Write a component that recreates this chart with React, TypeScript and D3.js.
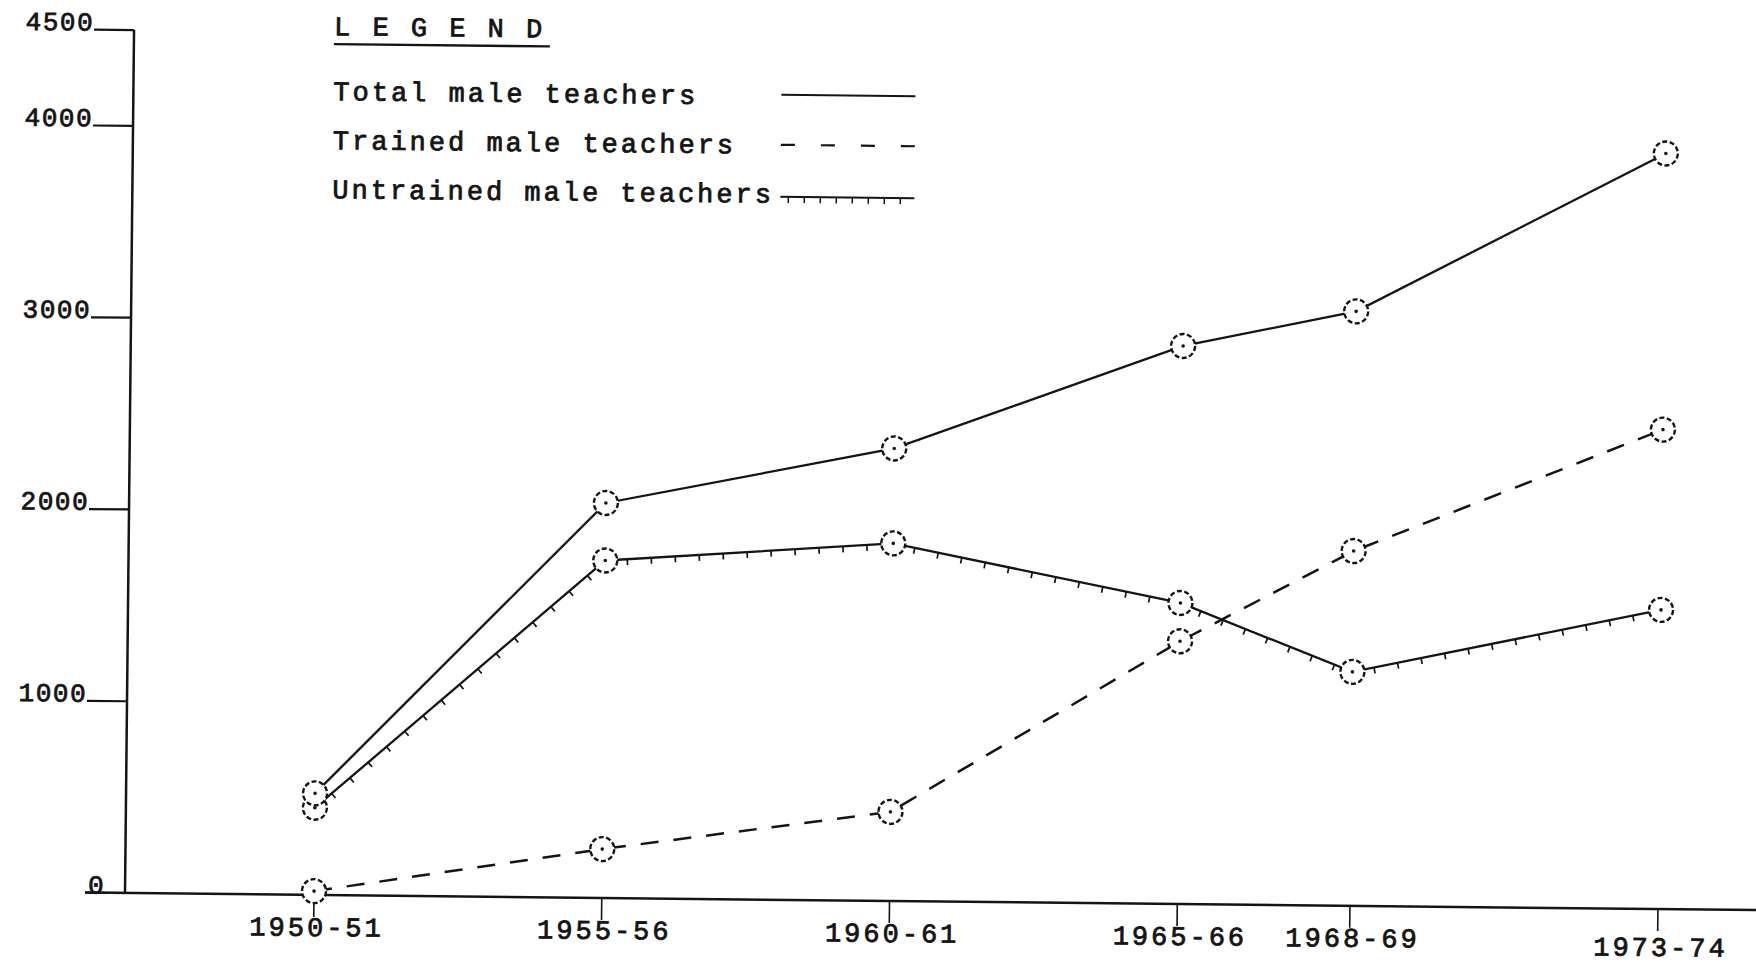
import React from "react";
import * as d3 from "d3";

// ---- data ----
const categories = ["1950-51", "1955-56", "1960-61", "1965-66", "1968-69", "1973-74"];
const startYears = [1950, 1955, 1960, 1965, 1968, 1973];
const totalMale = [530, 2060, 2360, 2910, 3100, 3940];
const trainedMale = [20, 255, 465, 1370, 1850, 2500];
const untrainedMale = [455, 1760, 1865, 1570, 1220, 1560];
const yTickValues = [0, 1000, 2000, 3000, 4000, 4500];
const legendTitle = "L E G E N D";
const legendLabels = ["Total male teachers", "Trained male teachers", "Untrained male teachers"];

const W = 1756;
const H = 968;
const INK = "#141414";
const FONT = "'Liberation Mono', 'DejaVu Sans Mono', monospace";

const x = d3.scaleLinear().domain([1950, 1968, 1973]).range([314, 1350, 1658]);
const y = d3.scaleLinear().domain([0, 4500]).range([893, 30]);
const axisX = 125;
const R = 12;

type Pt = [number, number];

function pts(values: number[]): Pt[] {
  return values.map((v, i) => [x(startYears[i]), y(v)] as Pt);
}

function tickMarks(points: Pt[], spacing: number, len: number, startPad: number, endPad: number) {
  const segs: string[] = [];
  for (let i = 0; i < points.length - 1; i++) {
    const [x0, y0] = points[i];
    const [x1, y1] = points[i + 1];
    const L = Math.hypot(x1 - x0, y1 - y0);
    const ux = (x1 - x0) / L;
    const uy = (y1 - y0) / L;
    const nx = -uy;
    const ny = ux;
    for (let t = startPad; t <= L - endPad; t += spacing) {
      const px = x0 + ux * t;
      const py = y0 + uy * t;
      segs.push(`M${px},${py}L${px + nx * len},${py + ny * len}`);
    }
  }
  return segs.join("");
}

export default function App() {
  const line = d3.line<Pt>().x((d) => d[0]).y((d) => d[1]);
  const totalPts = pts(totalMale);
  const trainedPts = pts(trainedMale);
  const untrainedPts = pts(untrainedMale);
  const y0 = y(0);
  const textStyle = {
    fontFamily: FONT,
    fontSize: 27,
    letterSpacing: 3,
    fill: INK,
    stroke: INK,
    strokeWidth: 0.8,
  } as React.CSSProperties;
  const yLabelStyle = { ...textStyle, fontSize: 26, letterSpacing: 1.5 } as React.CSSProperties;

  const legendX = 325;
  const legendBase = [98, 147, 196];
  const legendLineY = [88, 138, 190];
  const legendLineX0 = 773;
  const legendLineX1 = 907;

  const markers = (p: Pt[], key: string) =>
    p.map((d, i) => (
      <g key={key + i}>
        <circle cx={d[0]} cy={d[1]} r={R} fill="#fff" stroke={INK} strokeWidth={2.4} strokeDasharray="5 2.5" />
        <circle cx={d[0]} cy={d[1]} r={1.8} fill={INK} />
      </g>
    ));

  return (
    <svg
      width={W}
      height={H}
      style={{ position: "fixed", left: 0, top: 0, background: "#fff" }}
      xmlns="http://www.w3.org/2000/svg"
    >
      <rect width={W} height={H} fill="#fff" />
      <g transform={`rotate(0.6 ${axisX} ${y0})`}>
        {/* y axis */}
        <line x1={axisX} y1={y(4500)} x2={axisX} y2={y0} stroke={INK} strokeWidth={2.5} />
        {yTickValues.map((v) => (
          <g key={"yt" + v}>
            <line x1={axisX - 40} y1={y(v)} x2={axisX} y2={y(v)} stroke={INK} strokeWidth={2.2} />
            <text
              x={v === 0 ? axisX - 20 : axisX - 40}
              y={y(v) + 1}
              textAnchor="end"
              style={yLabelStyle}
            >
              {String(v)}
            </text>
          </g>
        ))}
        {/* x axis */}
        <line x1={axisX - 40} y1={y0} x2={W + 20} y2={y0} stroke={INK} strokeWidth={2.5} />
        {categories.map((c, i) => (
          <g key={"xt" + c}>
            <line x1={x(startYears[i])} y1={y0} x2={x(startYears[i])} y2={y0 + 22} stroke={INK} strokeWidth={1.6} />
            <text x={x(startYears[i]) + 3} y={y0 + 41 + (i === categories.length - 1 ? 6 : 0)} textAnchor="middle" style={textStyle}>
              {c}
            </text>
          </g>
        ))}

        {/* series lines */}
        <path d={line(totalPts) || ""} fill="none" stroke={INK} strokeWidth={2.3} />
        <path d={line(trainedPts) || ""} fill="none" stroke={INK} strokeWidth={2.5} strokeDasharray="18 15" />
        <path d={line(untrainedPts) || ""} fill="none" stroke={INK} strokeWidth={2.3} />
        <path d={tickMarks(untrainedPts, 24, 6, R + 10, R + 6)} fill="none" stroke={INK} strokeWidth={1.7} />

        {/* markers */}
        {markers(trainedPts, "tr")}
        {markers(untrainedPts, "un")}
        {markers(totalPts, "to")}

        {/* legend */}
        <text x={legendX} y={33} style={textStyle}>
          {legendTitle}
        </text>
        <line x1={legendX} y1={42} x2={legendX + 216} y2={42} stroke={INK} strokeWidth={2.4} />
        {legendLabels.map((l, i) => (
          <text key={"lg" + i} x={legendX} y={legendBase[i]} style={textStyle}>
            {l}
          </text>
        ))}
        <line x1={legendLineX0} y1={legendLineY[0]} x2={legendLineX1} y2={legendLineY[0]} stroke={INK} strokeWidth={2} />
        <line
          x1={legendLineX0}
          y1={legendLineY[1]}
          x2={legendLineX1}
          y2={legendLineY[1]}
          stroke={INK}
          strokeWidth={2.2}
          strokeDasharray="14 26"
        />
        <line x1={legendLineX0} y1={legendLineY[2]} x2={legendLineX1} y2={legendLineY[2]} stroke={INK} strokeWidth={2} />
        <path
          d={tickMarks(
            [
              [legendLineX0, legendLineY[2]],
              [legendLineX1, legendLineY[2]],
            ],
            16,
            6,
            8,
            4
          )}
          stroke={INK}
          strokeWidth={1.5}
        />
      </g>
    </svg>
  );
}
